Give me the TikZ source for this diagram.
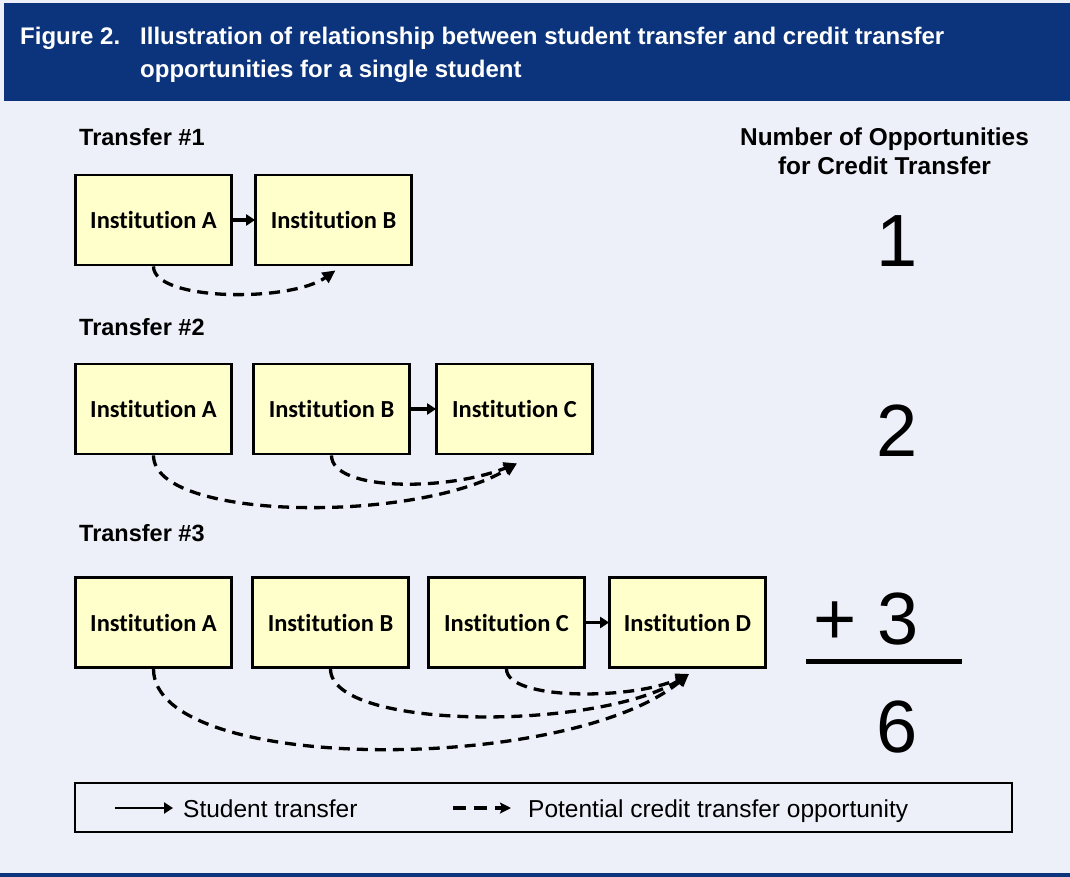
\documentclass[tikz,border=0pt]{standalone}
\usepackage{fontspec}
\setmainfont{Liberation Sans}
\newfontfamily\boxfont[Ligatures=NoCommon]{Carlito}
\usetikzlibrary{arrows.meta}
\definecolor{navy}{RGB}{12,52,125}
\definecolor{bgc}{RGB}{237,240,248}
\definecolor{boxy}{RGB}{255,255,204}
\begin{document}
\begin{tikzpicture}[x=1pt,y=-1pt,
  inst/.style={draw=black,line width=2.8pt,fill=boxy,minimum width=156pt,minimum height=90pt,inner sep=0pt,
    font=\boxfont\bfseries\fontsize{24.5}{27}\selectfont},
  sarrow/.style={line width=3.2pt,-{Triangle[length=9pt,width=11pt]},shorten >=-1pt},
  darrow/.style={line width=3.3pt,dash pattern=on 11pt off 7pt,-{Triangle[length=13pt,width=12pt]}},
  lbl/.style={inner sep=0pt,anchor=base west,font=\bfseries\fontsize{23.5}{27}\selectfont},
  hdr/.style={inner sep=0pt,anchor=base west,text=white,font=\bfseries\fontsize{24}{28}\selectfont},
  num/.style={inner sep=0pt,font=\fontsize{74}{80}\selectfont},
  colhead/.style={inner sep=0pt,anchor=base,font=\bfseries\fontsize{24.4}{28}\selectfont},
  legtext/.style={inner sep=0pt,anchor=base west,font=\fontsize{24.5}{28}\selectfont}]
\useasboundingbox (0,0) rectangle (1070,877);
\fill[bgc] (0,0) rectangle (1070,877);
\fill[navy] (4,3) rectangle (1070,101);
\fill[navy] (0,873) rectangle (1070,877);

% header
\node[hdr] (fig) at (20,45) {Figure 2.};
\node[hdr] (title1) at (140,45) {Illustration of relationship between student transfer and credit transfer};
\node[hdr] (title2) at (140,78) {opportunities for a single student};

% row labels
\node[lbl] (t1) at (79,146) {Transfer \#1};
\node[lbl] (t2) at (79,335) {Transfer \#2};
\node[lbl] (t3) at (79,541) {Transfer \#3};

% right column
\node[colhead] (ch1) at (884.5,146) {Number of Opportunities};
\node[colhead] (ch2) at (884.5,175) {for Credit Transfer};
\node[num] (n1) at (897,241) {1};
\node[num] (n2) at (897,431) {2};
\node[num] (n3) at (866,619) {+ 3};
\node[num] (n6) at (897,727) {6};
\coordinate (fl1) at (806,661);
\coordinate (fl2) at (962,661);
\draw[line width=5pt] (fl1) -- (fl2);

% row 1
\node[inst] (A1) at (153.5,220) {Institution A};
\node[inst] (B1) at (333.5,220) {Institution B};
\draw[sarrow] (A1) -- (B1);
\draw[darrow] (A1.south) .. controls +(0,35) and +(-45,32) .. ([shift={(2pt,-4pt)}]B1.south);

% row 2
\node[inst] (A2) at (153.5,409) {Institution A};
\node[inst] (B2) at (331.5,409) {Institution B};
\node[inst] (C2) at (514.5,409) {Institution C};
\draw[sarrow] (B2) -- (C2);
\draw[darrow] (A2.south) .. controls +(0,66) and +(-100,60) .. ([shift={(2.5pt,-8pt)}]C2.south);
\draw[darrow] (B2.south) .. controls +(0,36) and +(-70,28) .. ([shift={(2.5pt,-8pt)}]C2.south);

% row 3
\node[inst] (A3) at (153.5,622.5) {Institution A};
\node[inst] (B3) at (330.5,622.5) {Institution B};
\node[inst] (C3) at (506.5,622.5) {Institution C};
\node[inst] (D3) at (687.5,622.5) {Institution D};
\draw[sarrow] (C3) -- (D3);
\draw[darrow] (A3.south) .. controls +(0,106) and +(-120,100) .. ([shift={(1.5pt,-5pt)}]D3.south);
\draw[darrow] (B3.south) .. controls +(0,62) and +(-90,57) .. ([shift={(1.5pt,-5pt)}]D3.south);
\draw[darrow] (C3.south) .. controls +(0,32) and +(-55,26) .. ([shift={(1.5pt,-5pt)}]D3.south);

% legend
\node[draw=black,line width=2pt,minimum width=937pt,minimum height=49pt,inner sep=0pt] (legend) at (543.5,807.5) {};
\coordinate (ls1) at (115,808);
\coordinate (ls2) at (173,808);
\draw[line width=2.8pt,-{Triangle[length=9pt,width=11pt]}] (ls1) -- (ls2);
\node[legtext] (lt1) at (183,817) {Student transfer};
\coordinate (ld1) at (453,808);
\coordinate (ld2) at (511,808);
\draw[line width=3.2pt,dash pattern=on 13pt off 8pt,-{Stealth[length=11pt,width=11pt,inset=2pt]}] (ld1) -- (ld2);
\node[legtext] (lt2) at (528,817) {Potential credit transfer opportunity};
\end{tikzpicture}
\end{document}
